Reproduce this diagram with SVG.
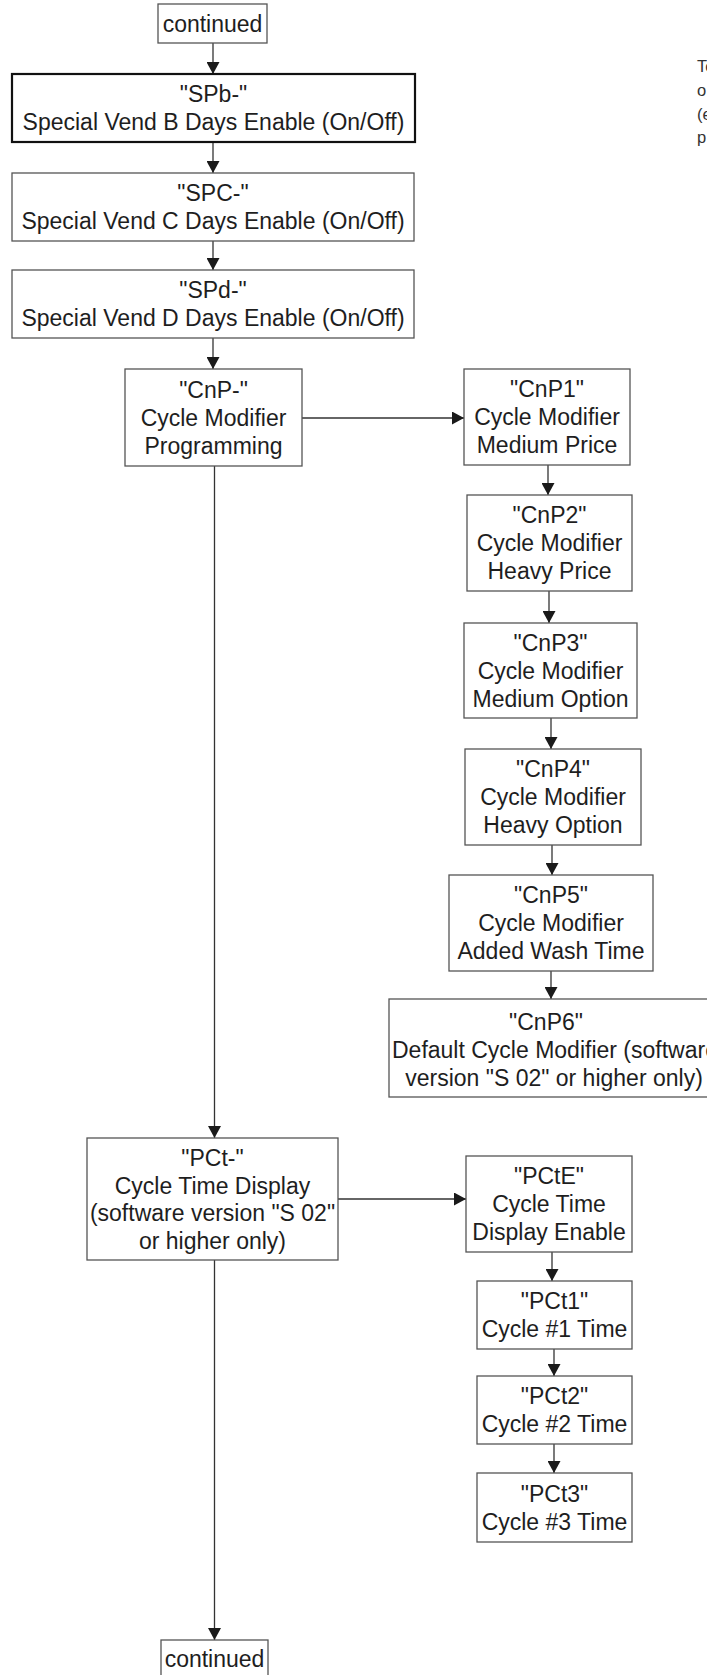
<svg xmlns="http://www.w3.org/2000/svg" width="707" height="1675" viewBox="0 0 707 1675">
<style>
.box{fill:#fff;stroke:#555;stroke-width:1.3}
.bold{fill:#fff;stroke:#111;stroke-width:2.2}
.t{font-family:"Liberation Sans",Arial,sans-serif;font-size:23px;fill:#1e1e1e;text-anchor:middle}
.note{font-family:"Liberation Sans",Arial,sans-serif;font-size:16.5px;fill:#333}
.c{stroke:#333;stroke-width:1.3;fill:none}
</style>
<defs>
<marker id="ah" markerWidth="12" markerHeight="13" refX="12" refY="6.5" orient="auto" markerUnits="userSpaceOnUse">
<path d="M0,0 L12,6.5 L0,13 z" fill="#1a1a1a"/>
</marker>
</defs>
<rect width="707" height="1675" fill="#fff"/>

<g id="connectors">
<line class="c" x1="213" y1="43" x2="213" y2="74" marker-end="url(#ah)"/>
<line class="c" x1="213" y1="142" x2="213" y2="173" marker-end="url(#ah)"/>
<line class="c" x1="213" y1="241" x2="213" y2="270" marker-end="url(#ah)"/>
<line class="c" x1="213" y1="338" x2="213" y2="369" marker-end="url(#ah)"/>
<line class="c" x1="302" y1="418" x2="464" y2="418" marker-end="url(#ah)"/>
<line class="c" x1="548" y1="465" x2="548" y2="495" marker-end="url(#ah)"/>
<line class="c" x1="549" y1="591" x2="549" y2="623" marker-end="url(#ah)"/>
<line class="c" x1="551" y1="718" x2="551" y2="749" marker-end="url(#ah)"/>
<line class="c" x1="552" y1="845" x2="552" y2="875" marker-end="url(#ah)"/>
<line class="c" x1="551" y1="971" x2="551" y2="999" marker-end="url(#ah)"/>
<line class="c" x1="214.5" y1="466" x2="214.5" y2="1138" marker-end="url(#ah)"/>
<line class="c" x1="338" y1="1199" x2="466" y2="1199" marker-end="url(#ah)"/>
<line class="c" x1="552" y1="1252" x2="552" y2="1281" marker-end="url(#ah)"/>
<line class="c" x1="554" y1="1349" x2="554" y2="1376" marker-end="url(#ah)"/>
<line class="c" x1="554" y1="1444" x2="554" y2="1473" marker-end="url(#ah)"/>
<line class="c" x1="214.5" y1="1260" x2="214.5" y2="1640" marker-end="url(#ah)"/>
</g>

<g id="continued-top">
<rect class="box" x="158" y="4" width="109" height="39"/>
<text class="t" x="212.5" y="32">continued</text>
</g>

<g id="SPb">
<rect class="bold" x="12" y="74" width="403" height="68"/>
<text class="t" x="213.5" y="102">"SPb-"</text>
<text class="t" x="213.5" y="130">Special Vend B Days Enable (On/Off)</text>
</g>

<g id="SPC">
<rect class="box" x="12" y="173" width="402" height="68"/>
<text class="t" x="213" y="201">"SPC-"</text>
<text class="t" x="213" y="229">Special Vend C Days Enable (On/Off)</text>
</g>

<g id="SPd">
<rect class="box" x="12" y="270" width="402" height="68"/>
<text class="t" x="213" y="298">"SPd-"</text>
<text class="t" x="213" y="326">Special Vend D Days Enable (On/Off)</text>
</g>

<g id="CnP-">
<rect class="box" x="125" y="369" width="177" height="97"/>
<text class="t" x="213.5" y="397.5">"CnP-"</text>
<text class="t" x="213.5" y="425.5">Cycle Modifier</text>
<text class="t" x="213.5" y="453.5">Programming</text>
</g>

<g id="CnP1">
<rect class="box" x="464" y="369" width="166" height="96"/>
<text class="t" x="547" y="397">"CnP1"</text>
<text class="t" x="547" y="425">Cycle Modifier</text>
<text class="t" x="547" y="453">Medium Price</text>
</g>

<g id="CnP2">
<rect class="box" x="467" y="495" width="165" height="96"/>
<text class="t" x="549.5" y="523">"CnP2"</text>
<text class="t" x="549.5" y="551">Cycle Modifier</text>
<text class="t" x="549.5" y="579">Heavy Price</text>
</g>

<g id="CnP3">
<rect class="box" x="464" y="623" width="173" height="95"/>
<text class="t" x="550.5" y="650.5">"CnP3"</text>
<text class="t" x="550.5" y="678.5">Cycle Modifier</text>
<text class="t" x="550.5" y="706.5">Medium Option</text>
</g>

<g id="CnP4">
<rect class="box" x="465" y="749" width="176" height="96"/>
<text class="t" x="553" y="777">"CnP4"</text>
<text class="t" x="553" y="805">Cycle Modifier</text>
<text class="t" x="553" y="833">Heavy Option</text>
</g>

<g id="CnP5">
<rect class="box" x="449" y="875" width="204" height="96"/>
<text class="t" x="551" y="903">"CnP5"</text>
<text class="t" x="551" y="931">Cycle Modifier</text>
<text class="t" x="551" y="959">Added Wash Time</text>
</g>

<g id="CnP6">
<rect class="box" x="389" y="999" width="330" height="98"/>
<text class="t" x="546" y="1030">"CnP6"</text>
<text class="t" x="392" y="1058" style="text-anchor:start">Default Cycle Modifier (software</text>
<text class="t" x="554" y="1085.5">version "S 02" or higher only)</text>
</g>

<g id="PCt-">
<rect class="box" x="87" y="1138" width="251" height="122"/>
<text class="t" x="212.5" y="1166">"PCt-"</text>
<text class="t" x="212.5" y="1193.5">Cycle Time Display</text>
<text class="t" x="212.5" y="1221">(software version "S 02"</text>
<text class="t" x="212.5" y="1248.5">or higher only)</text>
</g>

<g id="PCtE">
<rect class="box" x="466" y="1156" width="166" height="96"/>
<text class="t" x="549" y="1184">"PCtE"</text>
<text class="t" x="549" y="1212">Cycle Time</text>
<text class="t" x="549" y="1240">Display Enable</text>
</g>

<g id="PCt1">
<rect class="box" x="477" y="1281" width="155" height="68"/>
<text class="t" x="554.5" y="1309">"PCt1"</text>
<text class="t" x="554.5" y="1337">Cycle #1 Time</text>
</g>

<g id="PCt2">
<rect class="box" x="477" y="1376" width="155" height="68"/>
<text class="t" x="554.5" y="1404">"PCt2"</text>
<text class="t" x="554.5" y="1432">Cycle #2 Time</text>
</g>

<g id="PCt3">
<rect class="box" x="477" y="1473" width="155" height="69"/>
<text class="t" x="554.5" y="1501.5">"PCt3"</text>
<text class="t" x="554.5" y="1529.5">Cycle #3 Time</text>
</g>

<g id="continued-bottom">
<rect class="box" x="161" y="1640" width="107" height="45"/>
<text class="t" x="214.5" y="1667">continued</text>
</g>

<g id="note">
<text class="note" x="697" y="72">To</text>
<text class="note" x="697" y="96">o</text>
<text class="note" x="697" y="120">(e</text>
<text class="note" x="697" y="143">p</text>
</g>
</svg>
